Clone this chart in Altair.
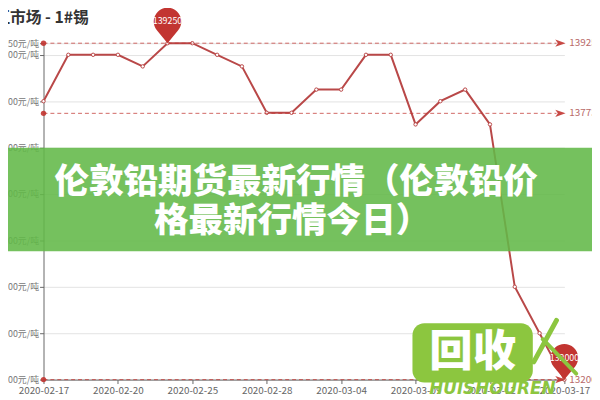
import altair as alt
import pandas as pd

# ---- data ----
dates = ["2020-02-17", "2020-02-18", "2020-02-19", "2020-02-20", "2020-02-21",
         "2020-02-24", "2020-02-25", "2020-02-26", "2020-02-27", "2020-02-28",
         "2020-03-02", "2020-03-03", "2020-03-04", "2020-03-05", "2020-03-06",
         "2020-03-09", "2020-03-10", "2020-03-11", "2020-03-12", "2020-03-13",
         "2020-03-16", "2020-03-17"]
prices = [138000, 139000, 139000, 139000, 138750, 139250, 139250, 139000,
          138750, 137750, 137750, 138250, 138250, 139000, 139000, 137500,
          138000, 138250, 137500, 134000, 133000, 132000]
tick_dates = dates[::3]
y_ticks = [132000, 133000, 134000, 135000, 136000, 137000, 138000, 139000, 139250]
title_text = "长江市场 - 1#锡"
banner_line1 = "伦敦铅期货最新行情（伦敦铅价"
banner_line2 = "格最新行情今日）"

C = "#c23531"
LINE_C = "#b94848"
FONT = "Noto Sans CJK SC"

df = pd.DataFrame({"date": dates, "price": prices})

vmax = max(prices)
vmin = min(prices)
vavg = sum(prices) / len(prices)
ml_df = pd.DataFrame({
    "v": [vmax, vavg, vmin],
    "label": [f"{vmax}", f"{vavg:.2f}", f"{vmin}"],
})
imax = prices.index(vmax)
imin = prices.index(vmin)
pin_df = pd.DataFrame({
    "date": [dates[imax], dates[imin]],
    "price": [vmax, vmin],
    "label": [str(vmax), str(vmin)],
})
one = pd.DataFrame({"a": [0]})

xscale = alt.Scale(type="point", padding=0, domain=dates)
yscale = alt.Scale(domain=[132000, 139250], nice=False, zero=False)

X = alt.X("date:O", scale=xscale, sort=dates,
          axis=alt.Axis(values=tick_dates, labelAngle=0, title=None, grid=False,
                        domainColor="#666", tickColor="#666", tickSize=4,
                        labelColor="#666", labelFontSize=10, labelFont=FONT,
                        labelPadding=2))
Y = alt.Y("price:Q", scale=yscale,
          axis=alt.Axis(values=y_ticks, title=None, grid=True, gridColor="#e3e3e3",
                        labelExpr="format(datum.value, ',') + '元/吨'",
                        domainColor="#666", tickColor="#666", tickSize=4,
                        labelColor="#777", labelFontSize=9, labelFont=FONT,
                        labelPadding=1))

line = alt.Chart(df).mark_line(color=LINE_C, strokeWidth=2).encode(x=X, y=Y)
pts = alt.Chart(df).mark_point(filled=True, fill="white", stroke=LINE_C,
                               strokeWidth=1, size=12, opacity=1).encode(
    x=alt.X("date:O", scale=xscale, sort=dates),
    y=alt.Y("price:Q", scale=yscale))

YV = alt.Y("v:Q", scale=yscale)
rules = alt.Chart(ml_df).mark_rule(color=C, strokeDash=[4, 3], strokeWidth=1,
                                   opacity=0.75).encode(
    x=alt.value(0), x2=alt.value(520), y=YV)
ARROW = "M-1,-0.7L1,0L-1,0.7L-0.5,0Z"
arrows = alt.Chart(ml_df).mark_point(shape=ARROW, filled=True, color=C,
                                     size=110, opacity=0.9).encode(
    x=alt.value(524), y=YV)
dots = alt.Chart(ml_df).mark_point(shape="circle", filled=True, color=C,
                                   size=30, opacity=0.9).encode(
    x=alt.value(0), y=YV)
ml_labels = alt.Chart(ml_df).mark_text(align="left", baseline="middle",
                                       fontSize=10, color="#b86a6a",
                                       font=FONT).encode(
    x=alt.value(533), y=YV, text="label:N")

PIN = "M0,1L-0.54,0.345A0.7,0.7 0 1,1 0.54,0.345Z"
pins = alt.Chart(pin_df).mark_point(shape=PIN, filled=True, color=C, size=1600,
                                    opacity=1, yOffset=-20).encode(
    x=alt.X("date:O", scale=xscale, sort=dates),
    y=alt.Y("price:Q", scale=yscale))
pin_text = alt.Chart(pin_df).mark_text(color="white", fontSize=9, dy=-22,
                                       font=FONT).encode(
    x=alt.X("date:O", scale=xscale, sort=dates),
    y=alt.Y("price:Q", scale=yscale), text="label:N")

title = alt.Chart(one).mark_text(text=title_text, align="left", baseline="middle",
                                 fontSize=16, fontWeight="bold", color="#333",
                                 font=FONT).encode(
    x=alt.value(-66), y=alt.value(-25))

banner = alt.Chart(one).mark_rect(color="#62b848", opacity=0.88).encode(
    x=alt.value(-50), x2=alt.value(560), y=alt.value(106), y2=alt.value(211))
b1 = alt.Chart(one).mark_text(text=banner_line1, fontSize=35, fontWeight=900,
                              color="white", font=FONT, baseline="middle").encode(
    x=alt.value(256), y=alt.value(141))
b2 = alt.Chart(one).mark_text(text=banner_line2, fontSize=35, fontWeight=900,
                              color="white", font=FONT, baseline="middle").encode(
    x=alt.value(252), y=alt.value(180))

G = "#8cc63f"
logo_box = alt.Chart(one).mark_rect(color=G, cornerRadius=12).encode(
    x=alt.value(374), x2=alt.value(496), y=alt.value(284), y2=alt.value(344))
logo_txt = alt.Chart(one).mark_text(text="回收", fontSize=44, fontWeight=900,
                                    color="white", font=FONT, baseline="middle").encode(
    x=alt.value(435), y=alt.value(314))
logo_en = alt.Chart(one).mark_text(text="HUISHOUREN", fontSize=17, fontWeight="bold",
                                   fontStyle="italic", color=G, font="DejaVu Sans",
                                   baseline="middle").encode(
    x=alt.value(455), y=alt.value(351))
stroke1 = alt.Chart(one).mark_rule(color=G, strokeWidth=5, strokeCap="round").encode(
    x=alt.value(520), x2=alt.value(497), y=alt.value(281), y2=alt.value(323))
stroke2 = alt.Chart(one).mark_rule(color=G, strokeWidth=4, strokeCap="round").encode(
    x=alt.value(506), x2=alt.value(540), y=alt.value(300), y2=alt.value(335))

chart = alt.layer(
    line, pts, rules, arrows, dots, ml_labels, pins, pin_text, title,
    banner, b1, b2, logo_box, logo_txt, logo_en, stroke1, stroke2
).properties(
    width=528, height=341,
    autosize=alt.AutoSizeParams(type="none"),
    padding={"left": 36, "top": 33, "right": 28, "bottom": 18},
).configure_view(stroke=None)

chart.save("out.html", embed_options={"renderer": "svg", "actions": False})
